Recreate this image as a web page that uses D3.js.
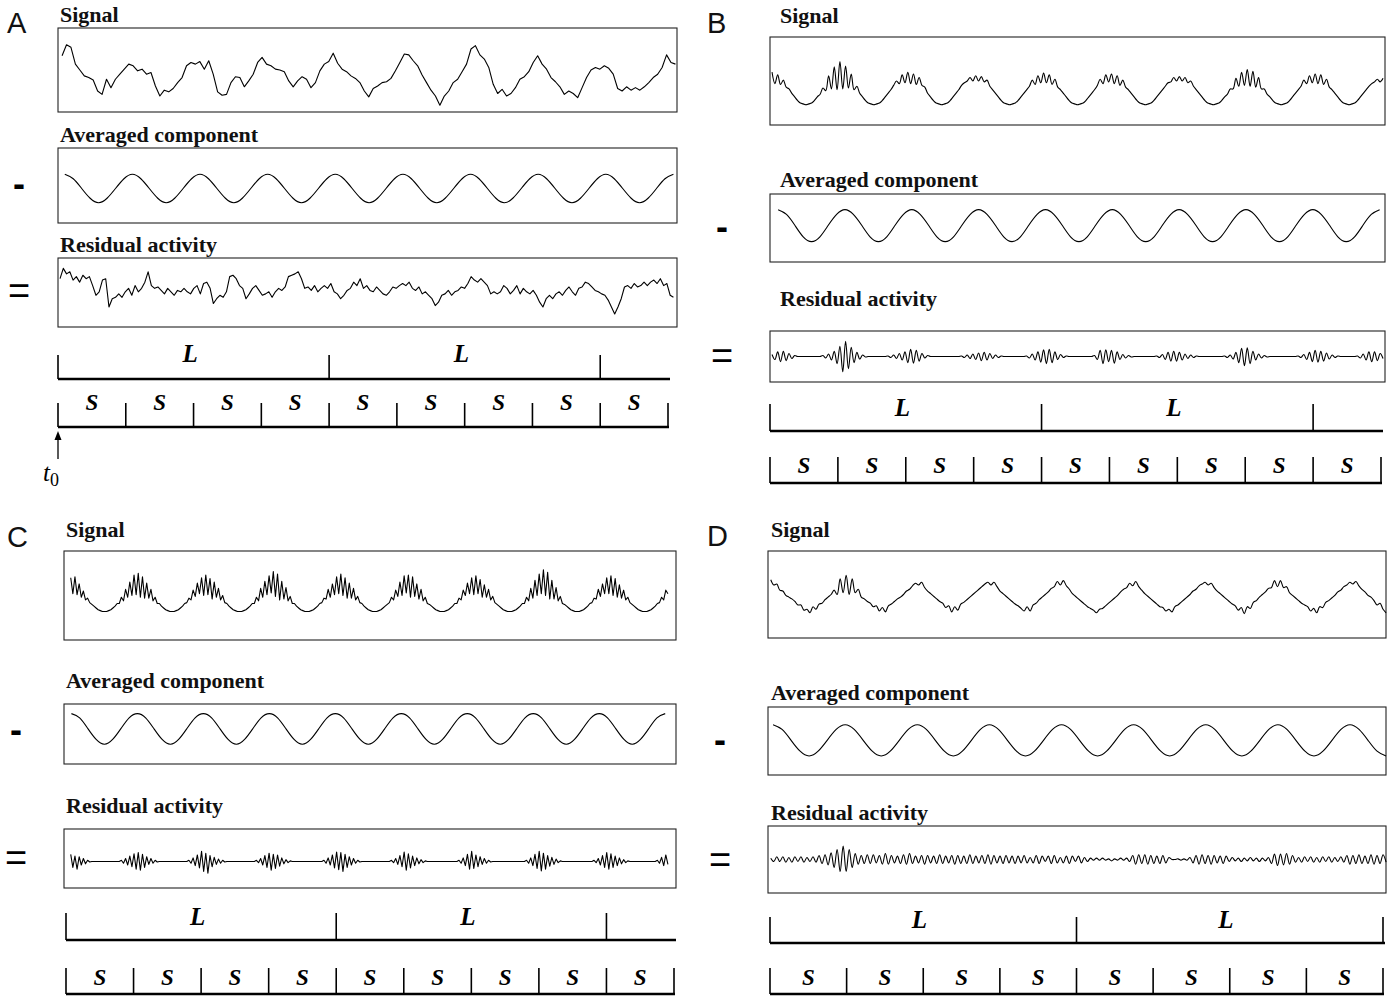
<!DOCTYPE html>
<html><head><meta charset="utf-8">
<script src="https://cdn.jsdelivr.net/npm/d3@7"></script>
<style>body{margin:0;background:#fff}svg{display:block}</style>
</head><body>
<svg id="fig" width="1395" height="997"></svg>
<script>
// ---------------- DATA (time in stimulation periods S, amplitude in arbitrary units, box = -50..50) -------------
const panelLetters = ["A","B","C","D"];
const traceTitles = ["Signal","Averaged component","Residual activity"];
const operators = ["-","="];
const sCounts = [9,9,9,8];
const lTickPeriods = [0,4,8];
const lLabelPeriods = [1.95,5.95];
const sLabel = "S", lLabel = "L";

// Panel A
const sigA_t = [0.06, 9.11];
const sigA = [17,30,27,7,0,-7,-9,-12,-25,-29,-11,-21,-11,-5,1,7,5,-1,1,-5,-3,-19,-31,-24,-26,-22,-15,-9,5,9,
7,10,1,11,-5,-26,-30,-29,-15,-8,-9,-20,-13,-5,9,15,7,5,1,0,-2,-13,-20,-13,-8,-11,-21,-15,-1,7,
10,20,8,1,-2,-7,-10,-15,-25,-32,-22,-19,-15,-14,-10,-1,9,19,18,11,5,-6,-15,-24,-31,-42,-31,-25,-15,-11,
-2,7,25,29,18,13,3,-17,-28,-23,-31,-28,-21,-11,-8,-2,9,17,7,1,-9,-14,-20,-29,-25,-28,-33,-21,-9,0,
3,1,5,2,-5,-22,-25,-20,-24,-21,-24,-20,-15,-9,-5,3,18,9,7];
const avgA_t = [0.10, 9.08];
const avgA = [15,9,-4,-17,-23,-17,-4,9, 15,9,-4,-17,-23,-17,-4,9, 15,9,-4,-17,-23,-17,-4,9, 15,9,-4,-17,-23,-17,-4,9,
15,9,-4,-17,-23,-17,-4,9, 15,9,-4,-17,-23,-17,-4,9, 15,9,-4,-17,-23,-17,-4,9, 15,9,-4,-17,-23,-17,-4,9,
15,9,-4,-17,-23,-17,-4,9, 15];
const resA_t = [0.03, 9.08];
const resA = [20,35,27,30,18,23,15,25,20,23,10,-4,1,18,20,-21,-9,-7,-2,-7,1,6,-4,10,1,6,15,30,10,6,
8,3,-2,6,1,-4,3,1,6,1,-2,6,10,-2,13,15,6,-16,-9,-4,-7,1,23,25,20,10,6,-9,-2,6,
10,3,-4,-2,1,-7,1,6,3,8,23,25,27,30,20,6,8,3,10,1,6,10,6,13,1,-2,-9,-4,3,6,
15,10,20,6,10,3,1,8,3,-2,-4,1,8,6,10,13,10,15,6,3,8,-2,1,-4,-9,-19,-14,-4,-2,3,
-4,1,3,8,6,13,23,18,15,20,15,10,-2,1,-2,1,10,6,-2,3,10,-2,6,1,-2,3,-4,-14,-21,-9,
-4,-9,-2,1,-4,3,8,1,-4,6,8,15,13,8,3,1,-2,-4,-11,-21,-31,-21,-9,8,10,6,13,8,10,15,
10,15,18,13,20,10,13,-4,-7];

// Panel B
const sigB_t = [0.03, 9.03];
const sigB = [10,-3,7,-4,1,-7,-9,-14,-18,-22,-25,-26,-27,
-26,-25,-22,-18,-15,-8,-11,6,-9,16,-10,22,-9,17,-8,8,-10,-6,-14,-18,-22,-25,-26,-27,
-26,-25,-22,-18,-14,-10,-5,0,-3,7,-2,10,-3,8,-4,4,-5,-7,-14,-18,-22,-25,-26,-27,
-26,-25,-22,-18,-14,-10,-5,-2,0,4,0,6,0,5,-1,1,-6,-10,-14,-18,-22,-25,-26,-27,
-26,-25,-22,-18,-14,-10,-6,1,-4,6,-2,9,-2,7,-4,2,-7,-10,-14,-18,-22,-25,-26,-27,
-26,-25,-22,-18,-14,-10,-5,2,-3,7,-1,8,-3,6,-5,1,-7,-10,-14,-18,-22,-25,-26,-27,
-26,-25,-22,-18,-14,-10,-6,-2,-1,4,0,5,0,4,-2,0,-6,-10,-14,-18,-22,-25,-26,-27,
-26,-25,-22,-18,-15,-9,-9,3,-6,10,-5,13,-6,11,-7,4,-9,-9,-15,-18,-22,-25,-26,-27,
-26,-25,-22,-18,-14,-10,-6,1,-3,6,-2,8,-3,7,-4,2,-7,-10,-14,-18,-22,-25,-26,-27,
-26,-25,-22,-18,-14,-10,-6,-3,-1,2,-1,3];
const avgB_t = [0.12, 8.98];
const avgB = [27,20,4,-13,-20,-13,4,20, 27,20,4,-13,-20,-13,4,20, 27,20,4,-13,-20,-13,4,20, 27,20,4,-13,-20,-13,4,20,
27,20,4,-13,-20,-13,4,20, 27,20,4,-13,-20,-13,4,20, 27,20,4,-13,-20,-13,4,20, 27,20,4,-13,-20,-13,4,20,
27,20,4,-13,-20,-13,4,20, 27];
const resB_t = [0.03, 9.03];
const resB = [4,-6,9,-10,10,-8,6,-4,2,0, 0,0,0,0,0,0,0,0,
2,-3,5,-7,10,-14,20,-30,30,-24,18,-12,8,-5,3,-1, 0,0,0,0,0,0,0,
1,-2,3,-4,6,-7,9,-12,14,-13,12,-9,6,-3,2,0, 0,0,0,0,0,0,0,0,0,0,
1,-2,3,-4,5,-6,7,-8,8,-7,6,-4,3,-2,1,0, 0,0,0,0,0,0,0,
1,-3,5,-7,9,-11,13,-14,14,-12,9,-6,4,-2,1, 0,0,0,0,0,0,0,0,0,
2,-6,12,-14,13,-10,12,-13,9,-6,4,-3,2,-1, 0,0,0,0,0,0,0,0,
1,-2,4,-6,8,-9,10,-9,8,-7,5,-4,3,-2,1, 0,0,0,0,0,0,0,0,0,
1,-2,3,-5,8,-12,16,-18,17,-14,10,-7,5,-3,2,-1, 0,0,0,0,0,0,0,0,0,0,
1,-2,4,-6,8,-10,12,-11,10,-9,7,-5,3,-2,1, 0,0,0,0,0,0,
1,-3,5,-7,9,-10,9,-8,6,-4];

// Panel C
const sigC_t = [0.07, 8.91];
const sigC = [20,2,21,1,13,-2,5,-5,-3,-8,-10,-12,-14,-16,-17,-18,
-18,-18,-17,-16,-14,-12,-9,-9,-2,-6,7,-2,15,0,23,1,25,-2,21,-3,14,-3,7,-6,-2,-9,-9,-12,-14,-16,-17,-18,
-18,-18,-17,-16,-14,-12,-9,-8,-3,-5,6,-1,14,2,20,0,23,1,19,-4,15,-2,8,-5,0,-8,-9,-12,-14,-16,-17,-18,
-18,-18,-17,-16,-14,-12,-9,-9,-2,-6,8,-2,16,1,22,3,27,-1,24,-5,16,-4,9,-6,-1,-9,-9,-12,-14,-16,-17,-18,
-18,-18,-17,-16,-14,-12,-9,-8,-3,-4,7,-2,13,1,21,2,24,0,20,-3,14,-3,8,-5,-1,-8,-9,-12,-14,-16,-17,-18,
-18,-18,-17,-16,-14,-12,-10,-8,-2,-5,6,-1,15,0,22,3,23,-2,21,-1,13,-4,7,-6,-2,-9,-10,-12,-14,-16,-17,-18,
-18,-18,-17,-16,-14,-12,-9,-9,-3,-5,6,0,14,2,20,1,22,2,18,-2,12,-2,7,-5,-1,-8,-10,-12,-14,-16,-17,-18,
-18,-18,-17,-16,-14,-12,-9,-9,-2,-6,8,-3,17,0,24,2,29,0,26,-4,17,-4,9,-6,-1,-9,-10,-12,-14,-16,-17,-18,
-18,-18,-17,-16,-14,-12,-9,-8,-3,-4,7,-1,13,2,20,2,22,0,19,-2,12,-3,6,-5,-2,-8,-10,-12,-14,-16,-17,-18,
-18,-18,-17,-16,-14,-12,-9,-8,-2,-5,6,2];
const avgC_t = [0.08, 8.87];
const avgC = [34,27,9,-9,-17,-9,9,27, 34,27,9,-9,-17,-9,9,27, 34,27,9,-9,-17,-9,9,27, 34,27,9,-9,-17,-9,9,27,
34,27,9,-9,-17,-9,9,27, 34,27,9,-9,-17,-9,9,27, 34,27,9,-9,-17,-9,9,27, 34,27,9,-9,-17,-9,9,27,
34,27,9,-9,-17,-9,9,27, 34];
const resC_t = [0.07, 8.91];
const resC = [7,-15,4,-18,3,-11,0,-9,-3,-6,-5,-5,-5,-5,-5,-5,
-5,-5,-5,-5,-5,-5,-5,-5,-3,-8,0,-11,4,-14,8,-18,10,-20,7,-15,3,-10,0,-8,-3,-6,-5,-5,-5,-5,-5,-5,
-5,-5,-5,-5,-5,-5,-5,-5,-3,-8,1,-12,6,-16,12,-22,9,-25,5,-14,2,-10,-1,-8,-3,-6,-5,-5,-5,-5,-5,-5,
-5,-5,-5,-5,-5,-5,-5,-5,-3,-7,0,-11,5,-15,9,-20,7,-17,6,-13,1,-9,-2,-7,-4,-5,-5,-5,-5,-5,-5,-5,
-5,-5,-5,-5,-5,-5,-5,-5,-3,-8,1,-11,6,-16,11,-19,10,-22,7,-15,3,-11,0,-8,-3,-6,-5,-5,-5,-5,-5,-5,
-5,-5,-5,-5,-5,-5,-5,-5,-3,-7,0,-10,5,-14,11,-20,8,-16,4,-12,1,-9,-2,-7,-4,-5,-5,-5,-5,-5,-5,-5,
-5,-5,-5,-5,-5,-5,-5,-5,-3,-8,1,-12,7,-18,12,-17,6,-14,3,-10,0,-8,-3,-6,-5,-5,-5,-5,-5,-5,-5,-5,
-5,-5,-5,-5,-5,-5,-5,-5,-3,-8,1,-12,7,-17,12,-21,9,-18,5,-13,2,-10,-1,-7,-4,-5,-5,-5,-5,-5,-5,-5,
-5,-5,-5,-5,-5,-5,-5,-5,-3,-7,0,-11,5,-15,10,-18,8,-15,4,-12,1,-9,-2,-7,-4,-5,-5,-5,-5,-5,-5,-5,
-5,-5,-5,-5,-5,-5,-3,-8,2,-12,6,-10];

// Panel D
const sigD_t = [0.01, 8.04];
const sigD = [17,11,12,5,4,-1,-3,-5,-8,-12,-12,-18,-17,
-21,-14,-17,-11,-10,-6,-3,0,5,0,18,2,
22,0,18,2,6,-3,-5,-8,-10,-14,-13,-19,
-15,-20,-13,-11,-8,-5,-3,0,4,6,10,13,
11,14,8,4,1,-2,-5,-8,-10,-15,-13,-20,
-14,-18,-11,-9,-6,-3,0,3,6,9,12,14,
11,14,9,4,1,-2,-5,-8,-11,-13,-16,-19,
-14,-19,-12,-10,-6,-3,0,3,7,9,15,11,
16,10,6,1,-2,-5,-8,-11,-14,-16,-18,-21,
-17,-16,-13,-10,-7,-4,-1,3,6,8,13,10,
15,9,5,1,-2,-5,-8,-11,-14,-15,-19,-17,
-20,-14,-12,-9,-6,-3,0,4,6,10,12,14,
11,13,8,4,1,-2,-5,-8,-11,-13,-18,-15,
-22,-14,-16,-9,-7,-3,0,3,7,8,16,9,
16,8,9,2,-1,-4,-7,-10,-12,-14,-19,-16,
-21,-14,-15,-9,-7,-4,-1,3,5,9,11,14,
12,15,10,6,3,-1,-3,-7,-12,-10,-17,-21];
const avgD_t = [0.04, 8.04];
const avgD = [24,17,1,-15,-22,-15,1,17, 24,17,1,-15,-22,-15,1,17, 24,17,1,-15,-22,-15,1,17, 24,17,1,-15,-22,-15,1,17,
24,17,1,-15,-22,-15,1,17, 24,17,1,-15,-22,-15,1,17, 24,17,1,-15,-22,-15,1,17, 24,17,1,-15,-22,-15,1,17,
24,17,1,-15,-22];
const resD_t = [0.01, 8.04];
const resD = [2,-3,4,-3,4,-4,3,-4,4,-3,4,-4,3,-3,4,-4,6,-6,7,
-8,10,-12,15,-18,20,-18,15,-12,9,-7,6,
-6,7,-6,7,-5,6,-7,9,-7,6,-5,5,-6,7,-7,9,-6,5,-5,6,-7,6,-5,5,-6,7,-6,5,
-5,6,-7,6,-6,5,-6,7,-6,5,-5,6,-6,7,-7,6,-5,5,-6,6,-5,
5,-6,5,-5,6,-5,3,-5,6,-6,5,-3,5,-6,6,-5,3,-5,5,-6,5,-3,5,-5,3,-3,2,
-1,2,-1,2,-1,1,-2,1,-1,2,-1,2,
-3,6,-7,7,-6,7,-7,6,-6,5,-6,6,-5,3,
0,0,1,-1,1,-1,
3,-5,6,-7,7,-6,6,-7,6,-5,5,-6,5,-3,3,
-2,2,-3,2,-2,3,-2,2,-3,2,-2,3,
-6,8,-9,8,-8,9,-7,6,-4,
3,-4,4,-3,4,-4,3,-4,4,-3,4,-4,3,-3,4,
-4,6,-7,6,-6,7,-6,5,-6,7,-7,6,-6,7,-4];

// --------------- LAYOUT ----------------
const layout = [
 {letter:[7,33], titleX:60, ticks:[58,668], box:[58,677], bands:[[28,112],[148,223],[258,327]], titleY:[22,142,252],
  opX:19, opY:[185,291], lAxisY:379, lTickTop:355, sAxisY:427, sTickTop:403, lLabelY:362, sLabelY:410, arrow:true},
 {letter:[707,33], titleX:780, ticks:[770,1381], box:[770,1385], bands:[[37,125],[194,262],[331,382]], titleY:[23,187,306],
  opX:722, opY:[228,356], lAxisY:431, lTickTop:404, sAxisY:483, sTickTop:457, lLabelY:416, sLabelY:473},
 {letter:[7,547], titleX:66, ticks:[66,674], box:[64,676], bands:[[551,640],[704,764],[829,888]], titleY:[537,688,813],
  opX:16, opY:[731,858], lAxisY:940, lTickTop:913, sAxisY:994, sTickTop:968, lLabelY:925, sLabelY:985},
 {letter:[707,546], titleX:771, ticks:[770,1383], box:[768,1386], bands:[[551,638],[707,775],[826,893]], titleY:[537,700,820],
  opX:720, opY:[741,860], lAxisY:943, lTickTop:917, sAxisY:994, sTickTop:968, lLabelY:928, sLabelY:985}
];
const traces = [
 [[sigA,sigA_t,d3.curveLinear],[avgA,avgA_t,d3.curveNatural],[resA,resA_t,d3.curveLinear]],
 [[sigB,sigB_t,d3.curveCatmullRom],[avgB,avgB_t,d3.curveNatural],[resB,resB_t,d3.curveCatmullRom]],
 [[sigC,sigC_t,d3.curveLinear],[avgC,avgC_t,d3.curveNatural],[resC,resC_t,d3.curveLinear]],
 [[sigD,sigD_t,d3.curveCatmullRom],[avgD,avgD_t,d3.curveNatural],[resD,resD_t,d3.curveCatmullRom]]
];

const svg = d3.select("#fig");
svg.append("rect").attr("width",1395).attr("height",997).attr("fill","#fff");
const serif = "'Liberation Serif','Times New Roman',serif";
const sans = "'Liberation Sans',Arial,sans-serif";

layout.forEach((P, pi) => {
  const g = svg.append("g");
  const nS = sCounts[pi];
  const x = d3.scaleLinear().domain([0, nS]).range(P.ticks);
  g.append("text").attr("x",P.letter[0]).attr("y",P.letter[1]).text(panelLetters[pi])
    .attr("font-family",sans).attr("font-size",29).attr("fill","#111");
  P.bands.forEach((band, bi) => {
    g.append("text").attr("x",P.titleX).attr("y",P.titleY[bi]).text(traceTitles[bi])
      .attr("font-family",serif).attr("font-weight","bold").attr("font-size",22).attr("fill","#111");
    g.append("rect").attr("x",P.box[0]).attr("y",band[0]).attr("width",P.box[1]-P.box[0]).attr("height",band[1]-band[0])
      .attr("fill","none").attr("stroke","#222").attr("stroke-width",1.1);
    const [vals, tr, curve] = traces[pi][bi];
    const y = d3.scaleLinear().domain([-50,50]).range([band[1], band[0]]);
    const tt = d3.scaleLinear().domain([0, vals.length-1]).range(tr);
    const line = d3.line().x((d,i)=>x(tt(i))).y(d=>y(d)).curve(curve);
    g.append("path").attr("d", line(vals)).attr("fill","none").attr("stroke","#000")
      .attr("stroke-width",1.1).attr("stroke-linejoin","round");
  });
  g.append("text").attr("x",P.opX).attr("y",P.opY[0]+11).attr("text-anchor","middle").text(operators[0])
    .attr("font-family",sans).attr("font-weight","bold").attr("font-size",36).attr("fill","#000");
  g.append("text").attr("x",P.opX).attr("y",P.opY[1]+13).attr("text-anchor","middle").text(operators[1])
    .attr("font-family",sans).attr("font-size",38).attr("fill","#000");
  g.append("line").attr("x1",x(0)).attr("x2",x(nS)+2).attr("y1",P.lAxisY).attr("y2",P.lAxisY)
    .attr("stroke","#000").attr("stroke-width",2.6);
  lTickPeriods.forEach(t => g.append("line").attr("x1",x(t)).attr("x2",x(t)).attr("y1",P.lTickTop).attr("y2",P.lAxisY)
    .attr("stroke","#000").attr("stroke-width",1.6));
  lLabelPeriods.forEach(t => g.append("text").attr("x",x(t)).attr("y",P.lLabelY).attr("text-anchor","middle").text(lLabel)
    .attr("font-family",serif).attr("font-weight","bold").attr("font-style","italic").attr("font-size",25).attr("fill","#000"));
  g.append("line").attr("x1",x(0)).attr("x2",x(nS)+1).attr("y1",P.sAxisY).attr("y2",P.sAxisY)
    .attr("stroke","#000").attr("stroke-width",2.6);
  d3.range(nS+1).forEach(k => g.append("line").attr("x1",x(k)).attr("x2",x(k)).attr("y1",P.sTickTop).attr("y2",P.sAxisY)
    .attr("stroke","#000").attr("stroke-width",1.6));
  d3.range(nS).forEach(k => g.append("text").attr("x",x(k+0.5)).attr("y",P.sLabelY).attr("text-anchor","middle").text(sLabel)
    .attr("font-family",serif).attr("font-weight","bold").attr("font-style","italic").attr("font-size",23).attr("fill","#000"));
  if (P.arrow) {
    g.append("line").attr("x1",x(0)).attr("x2",x(0)).attr("y1",459).attr("y2",438).attr("stroke","#000").attr("stroke-width",1.3);
    g.append("path").attr("d",`M${x(0)},431 L${x(0)-3.5},440 L${x(0)+3.5},440 Z`).attr("fill","#000");
    const t0 = g.append("text").attr("x",x(0)-15).attr("y",481).attr("font-family",serif).attr("font-size",25).attr("fill","#000");
    t0.append("tspan").attr("font-style","italic").text("t");
    t0.append("tspan").attr("font-size",18).attr("dy",5).text("0");
  }
});
</script>
</body></html>
